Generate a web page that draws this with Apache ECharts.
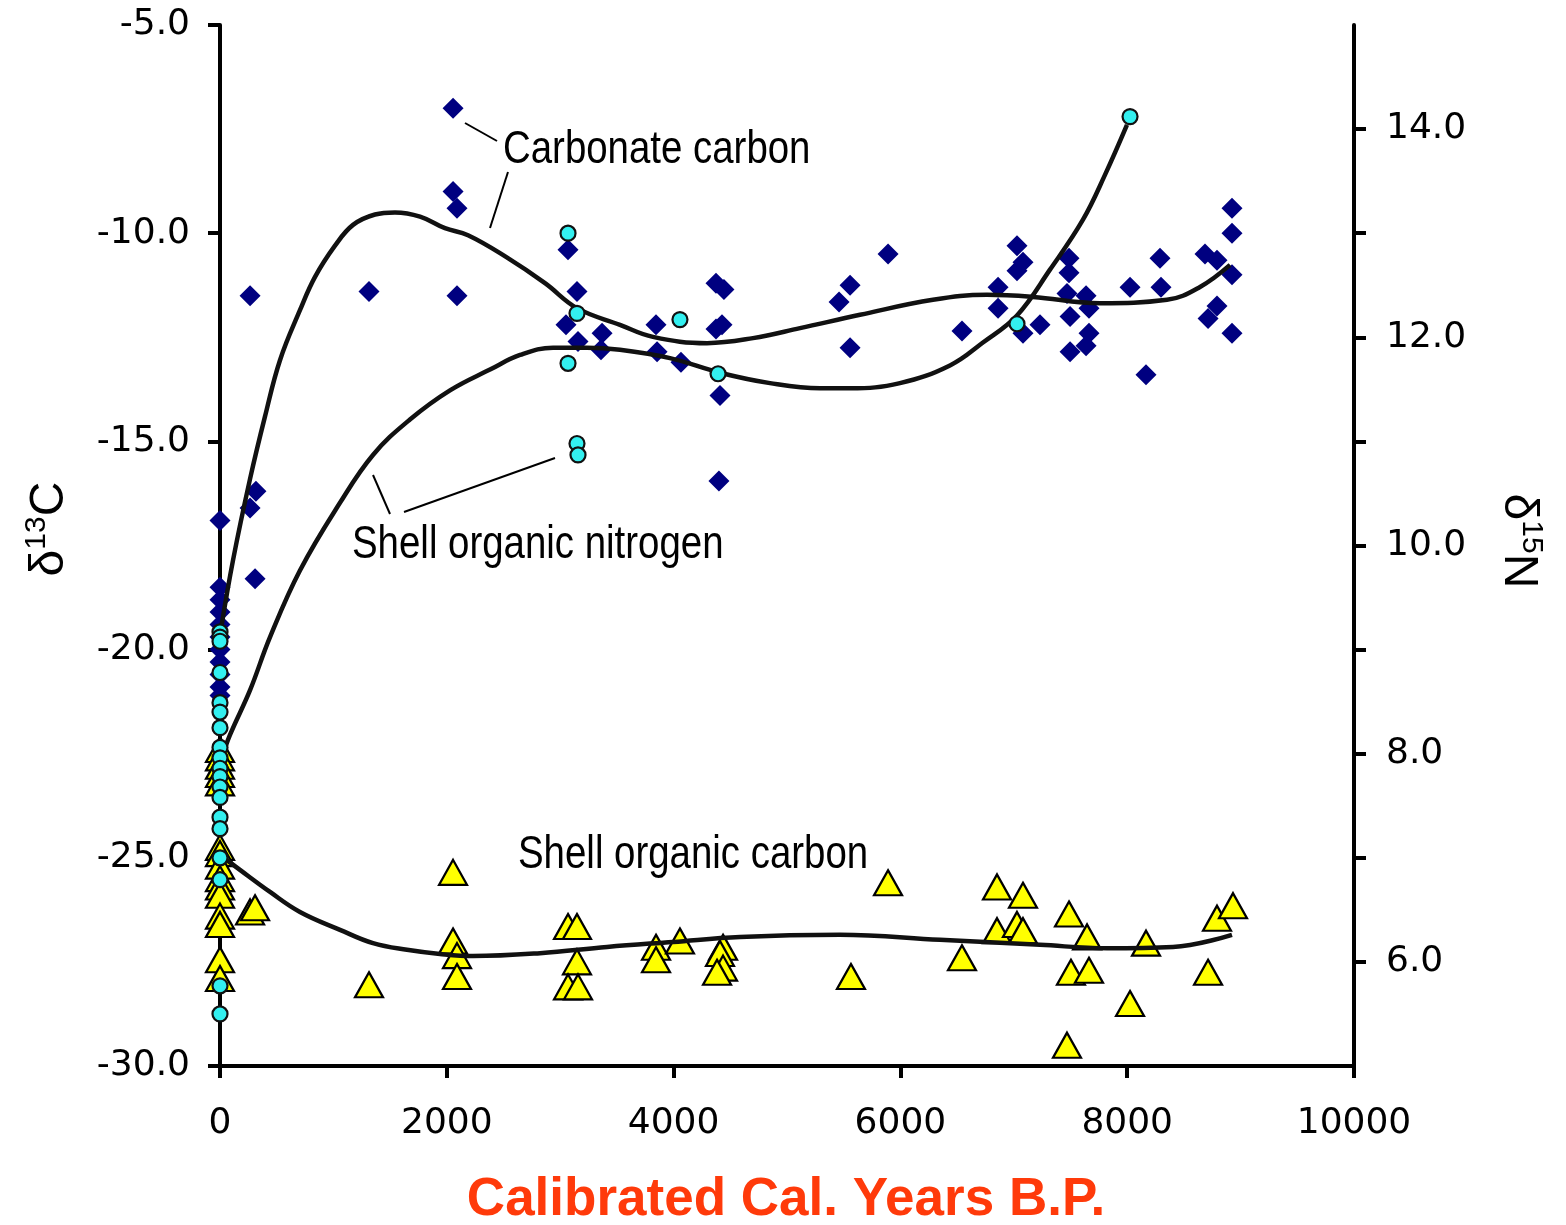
<!DOCTYPE html>
<html>
<head>
<meta charset="utf-8">
<script src="https://cdn.jsdelivr.net/npm/echarts@6/dist/echarts.min.js"></script>
<style>
  html, body { margin: 0; padding: 0; background: #fff; }
  #chart { width: 1566px; height: 1225px; }
</style>
</head>
<body>
<div id="chart"></div>
<script>
// [cal. years B.P., delta 13C] - blue diamonds, left axis
const carbonateCarbon = [
  [0, -16.9], [0, -18.5], [0, -18.8], [0, -19.1], [0, -19.4], [0, -19.7],
  [0, -20.0], [0, -20.3], [0, -20.6], [0, -20.9], [0, -21.1],
  [265, -11.5], [265, -16.6], [317, -16.2], [309, -18.3], [1314, -11.4],
  [2055, -7.0], [2055, -9.0], [2090, -9.4], [2090, -11.5],
  [3069, -10.4], [3148, -11.4], [3051, -12.2], [3157, -12.6], [3369, -12.4],
  [3360, -12.8], [3845, -12.2], [3854, -12.85], [4065, -13.1], [4374, -11.2],
  [4444, -11.35], [4427, -12.2], [4374, -12.3], [4409, -13.9], [4400, -15.95],
  [5891, -10.5], [5556, -11.25], [5459, -11.65], [5556, -12.75], [6543, -12.35],
  [7028, -10.3], [7081, -10.7], [7028, -10.9], [6861, -11.3], [6861, -11.8],
  [7081, -12.4], [7231, -12.2], [7487, -10.6], [7487, -10.95], [7469, -11.45],
  [7637, -11.5], [7663, -11.8], [7496, -12.0], [7663, -12.4], [7637, -12.7],
  [7496, -12.85], [8025, -11.3], [8289, -10.6], [8298, -11.3], [8166, -13.4],
  [8924, -9.4], [8924, -10.0], [8686, -10.5], [8792, -10.65], [8924, -11.0],
  [8792, -11.75], [8713, -12.05], [8924, -12.4]
];

// [cal. years B.P., delta 15N] - cyan circles, right axis
const shellNitrogen = [
  [0, 9.17], [0, 9.12], [0, 9.08], [0, 8.78], [0, 8.49], [0, 8.4], [0, 8.25],
  [0, 8.06], [0, 7.96], [0, 7.86], [0, 7.78], [0, 7.68], [0, 7.58], [0, 7.39],
  [0, 7.28], [0, 7.0], [0, 6.79], [0, 5.77], [0, 5.5],
  [3069, 13.0], [3148, 12.23], [3069, 11.75], [3148, 10.98], [3157, 10.87],
  [4056, 12.17], [4392, 11.65], [7028, 12.13], [8025, 14.12]
];

// [cal. years B.P., delta 13C] - yellow triangles, left axis
const shellOrganicCarbon = [
  [0, -22.4], [0, -22.6], [0, -22.8], [0, -23.0], [0, -23.2], [0, -24.75],
  [0, -24.9], [0, -25.2], [0, -25.5], [0, -25.7], [0, -25.9], [0, -26.4],
  [0, -26.6], [0, -27.45], [0, -27.9],
  [265, -26.3], [309, -26.2], [1314, -28.05], [2055, -25.35], [2055, -27.0],
  [2090, -27.35], [2090, -27.85], [3069, -26.65], [3148, -26.65], [3148, -27.5],
  [3069, -28.1], [3157, -28.1], [3845, -27.15], [3845, -27.45], [4056, -27.0],
  [4436, -27.15], [4409, -27.3], [4436, -27.65], [4383, -27.75],
  [5564, -27.85], [5891, -25.6], [6543, -27.4], [6852, -25.7], [7081, -25.9],
  [6852, -26.75], [7028, -26.6], [7081, -26.75], [7487, -26.35], [7646, -26.9],
  [7504, -27.75], [7663, -27.7], [7469, -29.5], [8025, -28.5], [8166, -27.05],
  [8792, -26.45], [8933, -26.15], [8713, -27.75]
];

// fitted trend curves
const carbonateTrend = [
  [9, -19.5], [115, -17.85], [265, -15.9], [397, -14.4], [529, -13.05],
  [705, -11.85], [838, -11.05], [1014, -10.3], [1173, -9.8], [1367, -9.55],
  [1543, -9.5], [1764, -9.6], [1984, -9.88], [2187, -10.05], [2522, -10.57],
  [2866, -11.2], [3148, -11.8], [3527, -12.2], [3818, -12.49], [4295, -12.64],
  [4700, -12.52], [5115, -12.28], [5644, -11.96], [6287, -11.6], [6764, -11.48],
  [7169, -11.53], [7760, -11.68], [8351, -11.6], [8642, -11.29], [8907, -10.76]
];

const nitrogenTrend = [
  [9, 7.94], [88, 8.18], [265, 8.61], [441, 9.12], [705, 9.76], [1058, 10.41],
  [1349, 10.87], [1675, 11.21], [2028, 11.49], [2381, 11.69], [2646, 11.83],
  [2937, 11.9], [3236, 11.9], [3527, 11.88], [3968, 11.8], [4409, 11.66],
  [4850, 11.56], [5291, 11.51], [5556, 11.51], [5996, 11.56], [6437, 11.73],
  [6728, 11.95], [7028, 12.21], [7319, 12.65], [7610, 13.13], [7804, 13.56],
  [7998, 14.04]
];

const organicCarbonTrend = [
  [0, -24.93], [176, -25.29], [441, -25.82], [705, -26.3], [1058, -26.73],
  [1349, -27.05], [1649, -27.21], [1940, -27.31], [2231, -27.36], [2822, -27.29],
  [3413, -27.14], [3995, -27.02], [4586, -26.9], [5467, -26.85], [6349, -26.97],
  [7231, -27.09], [7822, -27.17], [8404, -27.14], [8924, -26.85]
];

const rightTicks = [6, 7, 8, 9, 10, 11, 12, 13, 14];
const rightLabels = [6, 8, 10, 12, 14];

const tickFont = 'DejaVu Sans, Verdana, sans-serif';
const titleFont = '"Liberation Sans", Arial, sans-serif';
const axisLine = { lineStyle: { color: '#000', width: 4 } };
const axisTick = { length: 12, lineStyle: { color: '#000', width: 4 } };

const chart = echarts.init(document.getElementById('chart'));

const trendLine = (data, yAxisIndex) => ({
  type: 'line',
  data: data,
  yAxisIndex: yAxisIndex,
  smooth: 0.4,
  showSymbol: false,
  symbol: 'none',
  z: 4,
  lineStyle: { color: '#111', width: 4.5 },
  silent: true
});

// narrow labels next to the curves (Arial Narrow look via horizontal scale)
const note = (text, x, y) => ({
  type: 'text', x: x, y: y, scaleX: 0.835,
  style: { text: text, verticalAlign: 'middle', font: '46px ' + titleFont, fill: '#000' }
});

const richTitle = (text) => ({
  text: text,
  align: 'center', verticalAlign: 'middle',
  rich: {
    d: { fontSize: 48, fontFamily: titleFont, color: '#000', lineHeight: 54, verticalAlign: 'bottom' },
    s: { fontSize: 30, fontFamily: titleFont, color: '#000', lineHeight: 54, verticalAlign: 'top', padding: [2, 0, 0, 0] }
  }
});

chart.setOption({
  animation: false,
  backgroundColor: '#fff',
  grid: { left: 220, right: 212, top: 25, bottom: 159 },
  xAxis: {
    type: 'value',
    min: 0,
    max: 10000,
    interval: 2000,
    axisLine: Object.assign({ onZero: false }, axisLine),
    axisTick: axisTick,
    splitLine: { show: false },
    axisLabel: {
      color: '#000', fontSize: 36, fontFamily: tickFont, margin: 40,
      formatter: (v) => String(v)
    }
  },
  yAxis: [
    {
      type: 'value',
      position: 'left',
      min: -30,
      max: -5,
      interval: 5,
      axisLine: Object.assign({ onZero: false }, axisLine),
      axisTick: axisTick,
      splitLine: { show: false },
      axisLabel: {
        color: '#000', fontSize: 36, fontFamily: tickFont, margin: 30,
        formatter: (v) => v.toFixed(1)
      }
    },
    {
      type: 'value',
      position: 'right',
      min: 5,
      max: 15,
      interval: 1,
      axisLine: Object.assign({ onZero: false }, axisLine),
      axisTick: Object.assign({ customValues: rightTicks }, axisTick),
      splitLine: { show: false },
      axisLabel: {
        color: '#000', fontSize: 36, fontFamily: tickFont, margin: 32,
        customValues: rightLabels,
        formatter: (v) => v.toFixed(1)
      }
    }
  ],
  series: [
    {
      name: 'Shell organic carbon',
      type: 'scatter',
      data: shellOrganicCarbon,
      yAxisIndex: 0,
      symbol: 'triangle',
      symbolSize: [28, 25],
      z: 2,
      itemStyle: { color: '#ffff00', borderColor: '#000', borderWidth: 2.2, opacity: 1 }
    },
    {
      name: 'Carbonate carbon',
      type: 'scatter',
      data: carbonateCarbon,
      yAxisIndex: 0,
      symbol: 'diamond',
      symbolSize: [21, 21],
      z: 3,
      itemStyle: { color: '#000080', opacity: 1 }
    },
    trendLine(carbonateTrend, 0),
    trendLine(organicCarbonTrend, 0),
    trendLine(nitrogenTrend, 1),
    {
      name: 'Shell organic nitrogen',
      type: 'scatter',
      data: shellNitrogen,
      yAxisIndex: 1,
      symbol: 'circle',
      symbolSize: 15,
      z: 5,
      itemStyle: { color: '#33f0f0', borderColor: '#111', borderWidth: 2.2, opacity: 1 }
    }
  ],
  graphic: [
    // axis titles
    { type: 'text', x: 47, y: 529, rotation: Math.PI / 2, style: richTitle('{d|δ}{s|13}{d|C}') },
    { type: 'text', x: 1521, y: 541, rotation: -Math.PI / 2, style: richTitle('{d|δ}{s|15}{d|N}') },
    {
      type: 'text', x: 786, y: 1200,
      style: {
        text: 'Calibrated Cal. Years B.P.',
        align: 'center', verticalAlign: 'middle',
        font: 'bold 53px ' + titleFont,
        fill: '#ff3a0a'
      }
    },
    // series notes and their leader lines
    note('Carbonate carbon', 503, 150),
    note('Shell organic nitrogen', 352, 545),
    note('Shell organic carbon', 518, 855),
    { type: 'line', shape: { x1: 465, y1: 123, x2: 497, y2: 141 }, style: { stroke: '#000', lineWidth: 2 } },
    { type: 'line', shape: { x1: 508, y1: 172, x2: 490, y2: 228 }, style: { stroke: '#000', lineWidth: 2 } },
    { type: 'line', shape: { x1: 555, y1: 458, x2: 404, y2: 512 }, style: { stroke: '#000', lineWidth: 2 } },
    { type: 'line', shape: { x1: 373, y1: 475, x2: 390, y2: 514 }, style: { stroke: '#000', lineWidth: 2 } }
  ]
});
</script>
</body>
</html>
